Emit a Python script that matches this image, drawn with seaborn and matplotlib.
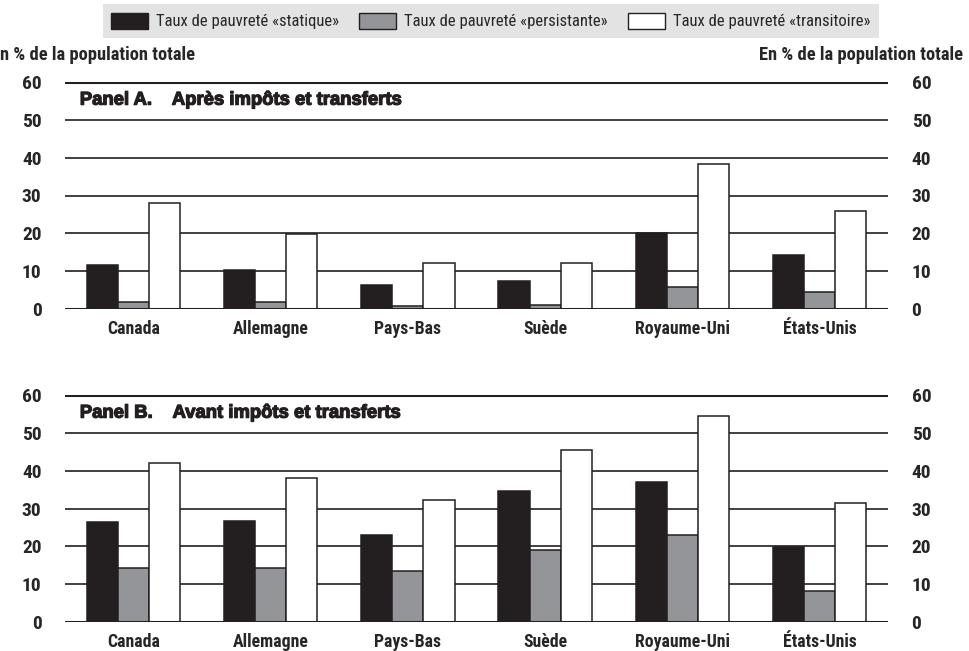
import matplotlib
matplotlib.use("Agg")
import matplotlib.pyplot as plt
import matplotlib.patheffects as pe
import seaborn as sns
import pandas as pd
from matplotlib.patches import Patch
from matplotlib import font_manager as fm

countries = ["Canada", "Allemagne", "Pays-Bas", "Suède", "Royaume-Uni", "États-Unis"]
series = ["Taux de pauvreté «statique»", "Taux de pauvreté «persistante»", "Taux de pauvreté «transitoire»"]

# Panel A: after taxes and transfers
a_static = [11.6, 10.3, 6.3, 7.5, 20.0, 14.3]
a_persist = [1.8, 1.8, 0.9, 1.1, 5.9, 4.6]
a_trans = [28.0, 19.9, 12.1, 12.1, 38.4, 26.0]

# Panel B: before taxes and transfers
b_static = [26.4, 26.6, 22.9, 34.6, 37.0, 19.7]
b_persist = [14.2, 14.2, 13.5, 19.0, 23.1, 8.1]
b_trans = [42.0, 38.0, 32.2, 45.5, 54.5, 31.5]

yticks = [0, 10, 20, 30, 40, 50, 60]
titles = ["Panel A.    Après impôts et transferts", "Panel B.    Avant impôts et transferts"]
ylab = "En % de la population totale"

colors = ["#231f20", "#939598", "#ffffff"]

def long_df(st, pe_, tr):
    rows = []
    for vals, s in zip([st, pe_, tr], series):
        for c, v in zip(countries, vals):
            rows.append({"pays": c, "serie": s, "valeur": v})
    return pd.DataFrame(rows)

sns.set_theme(style="white")
names = sorted({f.name for f in fm.fontManager.ttflist})
narrow = [n for n in ["Liberation Sans Narrow", "DejaVu Sans Condensed", "Roboto Condensed",
                      "Open Sans Condensed"] if n in names]
plt.rcParams["font.family"] = narrow + ["Liberation Sans", "DejaVu Sans"]

fig = plt.figure(figsize=(9.7, 6.51), dpi=100)
W, H = 970, 651
axes_px = [(82, 309), (395, 622)]
dfs = [long_df(a_static, a_persist, a_trans), long_df(b_static, b_persist, b_trans)]

for (top, bot), df, title in zip(axes_px, dfs, titles):
    ax = fig.add_axes([65 / W, 1 - bot / H, 823 / W, (bot - top) / H])
    sns.barplot(data=df, x="pays", y="valeur", hue="serie", hue_order=series,
                palette=colors, width=0.68, edgecolor="#231f20", linewidth=1.1,
                saturation=1, ax=ax, legend=False)
    ax.set_ylim(0, 60)
    ax.set_xlim(-0.5, 5.5)
    ax.set_yticks(yticks)
    ax.set_yticklabels([str(t) for t in yticks], fontweight="bold", fontsize=14)
    ax.set_axisbelow(True)
    for t in yticks[1:-1]:
        ax.axhline(t, color="#231f20", lw=1.2, zorder=0)
    ax.axhline(0, color="#231f20", lw=2.2, zorder=3)
    ax.axhline(60, color="#231f20", lw=2.2, zorder=3)
    for s in ax.spines.values():
        s.set_visible(False)
    ax.tick_params(axis="y", left=False, right=False, labelleft=True, labelright=True, pad=11)
    ax.tick_params(axis="x", bottom=False, pad=2, labelsize=12.8)
    for lbl in ax.get_xticklabels():
        lbl.set_fontweight("bold")
    ax.set_xlabel("")
    ax.set_ylabel("")
    ax.grid(False)
    ax.text(0.018, 55.2, title, transform=ax.get_yaxis_transform(), fontsize=13.3,
            fontweight="bold", family=["Liberation Sans", "DejaVu Sans"], va="center", ha="left",
            color="#231f20",
            path_effects=[pe.withStroke(linewidth=0.9, foreground="#231f20")])

fig.text(0.0, 1 - 55 / H, "n % de la population totale", fontsize=13.3, ha="left", va="center",
         fontweight="bold")
fig.text(963 / W, 1 - 55 / H, ylab, fontsize=13.3, ha="right", va="center", fontweight="bold")

handles = [Patch(facecolor=c, edgecolor="#231f20", linewidth=1.0) for c in colors]
leg = fig.legend(handles, series, loc="center", bbox_to_anchor=(491 / W, 1 - 21 / H), ncol=3,
                 frameon=True, fontsize=12, handlelength=2.2, handleheight=1.15,
                 columnspacing=1.2, handletextpad=0.5, borderpad=0.5, fancybox=False)
leg.get_frame().set_facecolor("#dcddde")
leg.get_frame().set_edgecolor("none")

fig.savefig("out.png", dpi=100)
